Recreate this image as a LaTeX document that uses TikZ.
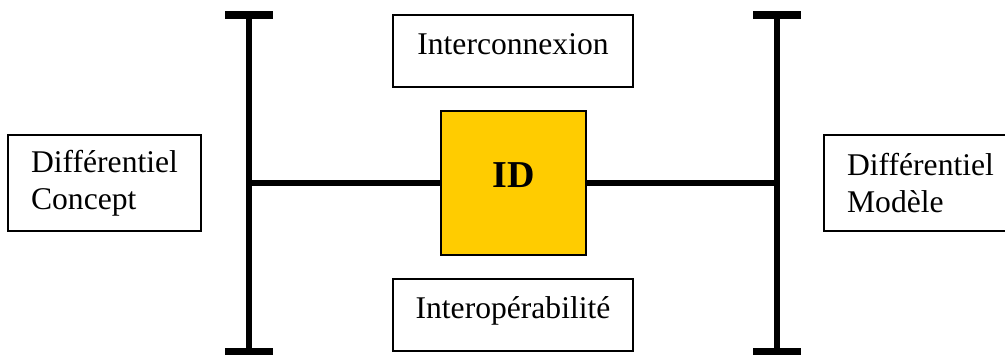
\documentclass[tikz,border=0pt]{standalone}
\usepackage{fontspec}
\setmainfont{Liberation Serif}
\definecolor{idyellow}{HTML}{FFCC00}

\begin{document}
\begin{tikzpicture}[x=0.5pt, y=-0.5pt,
    every node/.style={font=\fontsize{15.8}{18.5}\selectfont},
    box/.style={draw, line width=0.8pt, inner sep=0pt},
    idbox/.style={draw, line width=0.6pt, fill=idyellow, inner sep=0pt,
      minimum width=72.5pt, minimum height=72pt, text depth=7.5pt,
      font=\fontsize{19}{22}\selectfont\bfseries},
    beam/.style={line width=3.3pt},
    bar/.style={line width=4pt}]
  \useasboundingbox (0,0) rectangle (1005,354);
  % I-beams
  \coordinate (lt) at (249,15);
  \coordinate (lm) at (249,183);
  \coordinate (lb) at (249,352);
  \coordinate (rt) at (777,15);
  \coordinate (rm) at (777,183);
  \coordinate (rb) at (777,352);
  \draw[beam] (lt) -- (lb);
  \draw[beam] (rt) -- (rb);
  \draw[bar] (225,15) -- (273,15);
  \draw[bar] (225,352) -- (273,352);
  \draw[bar] (753,15) -- (801,15);
  \draw[bar] (753,352) -- (801,352);
  % boxes
  \node[box, minimum width=96.5pt, minimum height=48pt, align=left] (dc) at (104.5,183) {Différentiel\\Concept};
  \node[box, minimum width=96.5pt, minimum height=48pt, align=left] (dm) at (920.5,183) {Différentiel\\Modèle};
  \node[box, minimum width=120pt, minimum height=36pt, text depth=7pt] (ic) at (513,51) {Interconnexion};
  \node[box, minimum width=120pt, minimum height=36pt, text depth=7pt] (io) at (513,315) {Interopérabilité};
  \node[idbox] (id) at (513.5,183) {ID};
  % links
  \draw[beam] (lm) -- (id.west);
  \draw[beam] (id.east) -- (rm);
\end{tikzpicture}
\end{document}
